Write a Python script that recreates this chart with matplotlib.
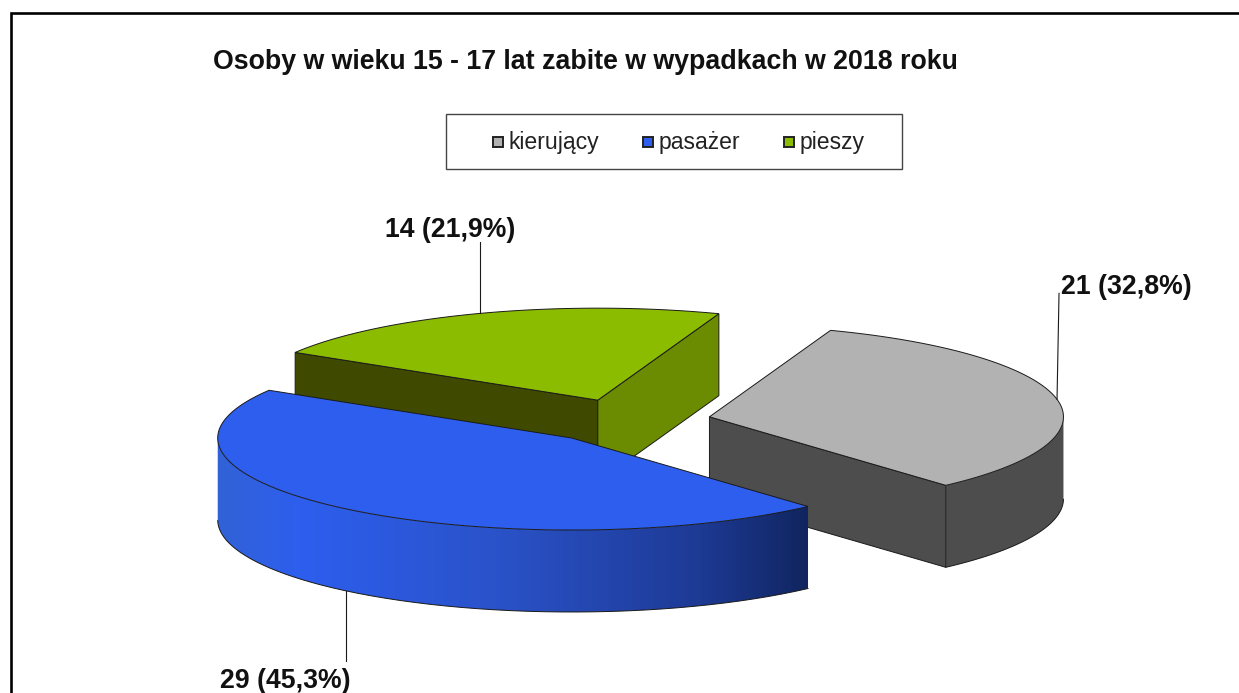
import numpy as np
import matplotlib
matplotlib.use("Agg")
import matplotlib.pyplot as plt
from matplotlib.patches import Polygon, Rectangle
from matplotlib.colors import LinearSegmentedColormap

plt.rcParams['font.family'] = ['Liberation Sans', 'DejaVu Sans']

title = "Osoby w wieku 15 - 17 lat zabite w wypadkach w 2018 roku"
categories = ["kierujący", "pasażer", "pieszy"]
values = [21, 29, 14]

# kolory: wierzch, bok
top_colors = ["#b2b2b2", "#2d5eee", "#8cbc00"]
outer_colors = ["#4d4d4d", "#2d5eee", "#6b8c00"]
start_side = ["#4d4d4d", "#2d5eee", "#3f4a00"]
end_side = ["#4d4d4d", "#2d5eee", "#6b8c00"]
blue_stops = [(0, "#3262d6"), (0.14, "#2d5eee"), (0.48, "#2a52c8"), (0.817, "#1d3a94"), (1, "#10255f")]

# geometria kola (piksele)
cx, cy = 626, 421
rx, ry = 354, 92
depth = 82
explode = 85
first_angle = 20
line_c = "#1a1a1a"

fig, ax = plt.subplots(figsize=(12.39, 6.93), dpi=100)
ax.set_position([0, 0, 1, 1])
ax.axis("off")

# ramka
ax.plot([11, 11, 1239], [693, 13, 13], color="black", lw=1.9, solid_joinstyle="miter")

ax.text(213, 62, title, fontsize=19.3, fontweight="bold", va="center", ha="left", color="#111111")


def pt(ang, ox, oy):
    a = np.radians(ang)
    return ox + rx * np.sin(a), oy - ry * np.cos(a)


total = sum(values)
angles = np.cumsum([0] + values) / total * 360 + first_angle
slices = []
for i in range(3):
    a0, a1 = angles[i], angles[i + 1]
    mid = (a0 + a1) / 2
    ox = cx + explode * np.sin(np.radians(mid))
    oy = cy - explode * ry / rx * np.cos(np.radians(mid))
    slices.append((a0, a1, mid, ox, oy))

for i in [0, 2, 1]:
    a0, a1, mid, ox, oy = slices[i]
    th = np.linspace(a0, a1, 300)
    xs, ys = pt(th, ox, oy)
    mx, my = pt(mid, ox, oy)

    # sciany boczne od srodka - tylko widoczne
    for ang, col in [(a0, start_side[i]), (a1, end_side[i])]:
        ex, ey = pt(ang, ox, oy)
        y_line = oy + (ey - oy) * (mx - ox) / (ex - ox)
        if my < y_line:
            ax.add_patch(Polygon([(ox, oy), (ex, ey), (ex, ey + depth), (ox, oy + depth)],
                                 closed=True, facecolor=col, edgecolor=line_c, lw=0.7, zorder=2))

    # sciana zewnetrzna
    front = th[(th % 360 > 90) & (th % 360 < 270)]
    if len(front) > 1:
        fx, fy = pt(front, ox, oy)
        outer = np.vstack([np.column_stack([fx, fy]), np.column_stack([fx, fy + depth])[::-1]])
        if i == 1:
            # gradient na niebieskim boku
            poly = Polygon(outer, closed=True, facecolor="none", edgecolor="none", zorder=3.5)
            ax.add_patch(poly)
            cmap = LinearSegmentedColormap.from_list("b", blue_stops)
            grad = np.linspace(0, 1, 256).reshape(1, -1)
            im = ax.imshow(grad, extent=[fx.min() - 1, fx.max(), fy.max() + depth, fy.min()],
                           aspect="auto", cmap=cmap, zorder=3.5)
            im.set_clip_path(poly)
        else:
            ax.add_patch(Polygon(outer, closed=True, facecolor=outer_colors[i], edgecolor="none", zorder=1.9))
        ax.plot(fx, fy + depth, color=line_c, lw=0.7, zorder=3.6 if i == 1 else 2.1)

    # wierzch
    ax.add_patch(Polygon(np.vstack([[ox, oy], np.column_stack([xs, ys])]), closed=True,
                         facecolor=top_colors[i], edgecolor=line_c, lw=0.7, zorder=4 if i == 1 else 3))

# etykiety z liniami
leader_len = [-106, 70, -71]
label_pos = [(1061, 287, "left"), (285, 681, "center"), (450, 230, "center")]
for i in range(3):
    a0, a1, mid, ox, oy = slices[i]
    ax_x, ax_y = pt(mid, ox, oy)
    if i == 1:
        ax_y += depth
    ax.plot([ax_x, ax_x + (2 if i == 0 else 0)], [ax_y, ax_y + leader_len[i]], color=line_c, lw=0.8, zorder=5)
    txt = f"{values[i]} ({values[i] / total * 100:.1f}%)".replace(".", ",")
    lx, ly, ha = label_pos[i]
    ax.text(lx, ly, txt, fontsize=19.2, fontweight="bold", ha=ha, va="center", color="#111111", zorder=6)

# legenda
ax.add_patch(Rectangle((446, 113.5), 456, 55.5, facecolor="white", edgecolor="#444444", lw=1.0))
key_x = [492, 642, 783]
text_x = [509, 659, 800]
for i in range(3):
    ax.add_patch(Rectangle((key_x[i] + 1, 136.5), 10, 10, facecolor=top_colors[i], edgecolor="#222222", lw=1.4))
    ax.text(text_x[i], 140.5, categories[i], fontsize=16.6, va="center_baseline", ha="left", color="#222222")

ax.set_xlim(0, 1239)
ax.set_ylim(693, 0)
plt.savefig("out.png", dpi=100)
